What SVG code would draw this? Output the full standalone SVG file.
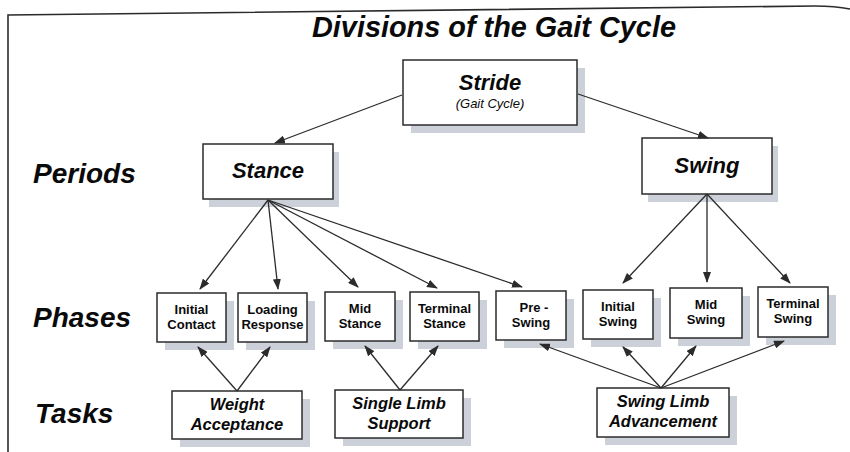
<svg xmlns="http://www.w3.org/2000/svg" width="850" height="452" viewBox="0 0 850 452">
<defs>
<marker id="ah" markerUnits="userSpaceOnUse" markerWidth="11" markerHeight="8" refX="10" refY="4" orient="auto">
<path d="M0,0 L11,4 L0,8 z" fill="#2b2b2b"/>
</marker>
<style>
.box{fill:#ffffff;stroke:#2b2b2b;stroke-width:1.5}
.sh{fill:#ccd0d8}
.con line{stroke:#2b2b2b;stroke-width:1.3;marker-end:url(#ah)}
text{font-family:"Liberation Sans",Arial,sans-serif;fill:#0a0a0a;text-anchor:middle}
.row{font-size:28px;font-weight:bold;font-style:italic;text-anchor:start}
.title{font-size:29px;font-weight:bold;font-style:italic}
.big{font-size:22px;font-weight:bold;font-style:italic}
.sub{font-size:13px;font-style:italic}
.ph{font-size:13px;font-weight:bold}
.task{font-size:16.5px;font-weight:bold;font-style:italic}
</style>
</defs>
<rect width="850" height="452" fill="#ffffff"/>
<path d="M8,452 L8,15 L815,6 Q835,6 850,9" fill="none" stroke="#2b2b2b" stroke-width="1.6"/>
<text class="title" x="494" y="37" textLength="364" lengthAdjust="spacingAndGlyphs">Divisions of the Gait Cycle</text>
<text class="row" x="33" y="183">Periods</text>
<text class="row" x="33" y="327">Phases</text>
<text class="row" x="35" y="423">Tasks</text>

<g id="stride">
<rect class="sh" x="411" y="68" width="174" height="65"/>
<rect class="box" x="403" y="60" width="174" height="65"/>
<text class="big" x="490" y="90">Stride</text>
<text class="sub" x="490" y="108">(Gait Cycle)</text>
</g>
<g id="stance">
<rect class="sh" x="209" y="152" width="130" height="55"/>
<rect class="box" x="203" y="144" width="130" height="55"/>
<text class="big" x="268" y="178">Stance</text>
</g>
<g id="swing">
<rect class="sh" x="648" y="146" width="130" height="56"/>
<rect class="box" x="642" y="138" width="130" height="56"/>
<text class="big" x="707" y="173">Swing</text>
</g>

<g id="initial-contact">
<rect class="sh" x="165" y="301" width="69" height="49"/>
<rect class="box" x="157" y="293" width="69" height="49"/>
<text class="ph" x="191.5" y="314">Initial</text>
<text class="ph" x="191.5" y="329">Contact</text>
</g>
<g id="loading-response">
<rect class="sh" x="246" y="301" width="69" height="49"/>
<rect class="box" x="238" y="293" width="69" height="49"/>
<text class="ph" x="272.5" y="314">Loading</text>
<text class="ph" x="272.5" y="329">Response</text>
</g>
<g id="mid-stance">
<rect class="sh" x="333" y="300" width="70" height="49"/>
<rect class="box" x="325" y="292" width="70" height="49"/>
<text class="ph" x="360" y="313">Mid</text>
<text class="ph" x="360" y="328">Stance</text>
</g>
<g id="terminal-stance">
<rect class="sh" x="418" y="300" width="69" height="49"/>
<rect class="box" x="410" y="292" width="69" height="49"/>
<text class="ph" x="444.5" y="313">Terminal</text>
<text class="ph" x="444.5" y="328">Stance</text>
</g>
<g id="pre-swing">
<rect class="sh" x="504" y="299" width="70" height="49"/>
<rect class="box" x="496" y="291" width="70" height="49"/>
<text class="ph" x="534" y="312">Pre -</text>
<text class="ph" x="531" y="327">Swing</text>
</g>
<g id="initial-swing">
<rect class="sh" x="591" y="298" width="70" height="49"/>
<rect class="box" x="583" y="290" width="70" height="49"/>
<text class="ph" x="618" y="311">Initial</text>
<text class="ph" x="618" y="326">Swing</text>
</g>
<g id="mid-swing">
<rect class="sh" x="678" y="296" width="72" height="50"/>
<rect class="box" x="670" y="288" width="72" height="50"/>
<text class="ph" x="706" y="309">Mid</text>
<text class="ph" x="706" y="324">Swing</text>
</g>
<g id="terminal-swing">
<rect class="sh" x="766" y="295" width="70" height="50"/>
<rect class="box" x="758" y="287" width="70" height="50"/>
<text class="ph" x="793" y="308">Terminal</text>
<text class="ph" x="793" y="323">Swing</text>
</g>

<g id="weight-acceptance">
<rect class="sh" x="180" y="399" width="130" height="48"/>
<rect class="box" x="172" y="391" width="130" height="48"/>
<text class="task" x="237" y="410">Weight</text>
<text class="task" x="237" y="430">Acceptance</text>
</g>
<g id="single-limb-support">
<rect class="sh" x="343" y="398" width="128" height="48"/>
<rect class="box" x="335" y="390" width="128" height="48"/>
<text class="task" x="399" y="409">Single Limb</text>
<text class="task" x="399" y="429">Support</text>
</g>
<g id="swing-limb-advancement">
<rect class="sh" x="605" y="396" width="132" height="49"/>
<rect class="box" x="597" y="388" width="132" height="49"/>
<text class="task" x="663" y="407">Swing Limb</text>
<text class="task" x="663" y="427">Advancement</text>
</g>

<g class="con">
<line x1="402" y1="95" x2="275" y2="143"/>
<line x1="578" y1="94" x2="708" y2="138"/>
<line x1="268" y1="200" x2="200" y2="289"/>
<line x1="268" y1="200" x2="278" y2="289"/>
<line x1="268" y1="200" x2="358" y2="287"/>
<line x1="268" y1="200" x2="437" y2="288"/>
<line x1="268" y1="200" x2="522" y2="287"/>
<line x1="707" y1="194" x2="623" y2="283"/>
<line x1="707" y1="194" x2="707" y2="282"/>
<line x1="707" y1="194" x2="790" y2="283"/>
<line x1="237" y1="391" x2="198" y2="347"/>
<line x1="237" y1="391" x2="270" y2="347"/>
<line x1="400" y1="390" x2="365" y2="346"/>
<line x1="400" y1="390" x2="438" y2="346"/>
<line x1="661" y1="388" x2="540" y2="344"/>
<line x1="661" y1="388" x2="623" y2="347"/>
<line x1="661" y1="388" x2="696" y2="346"/>
<line x1="661" y1="388" x2="784" y2="341"/>
</g>
</svg>
